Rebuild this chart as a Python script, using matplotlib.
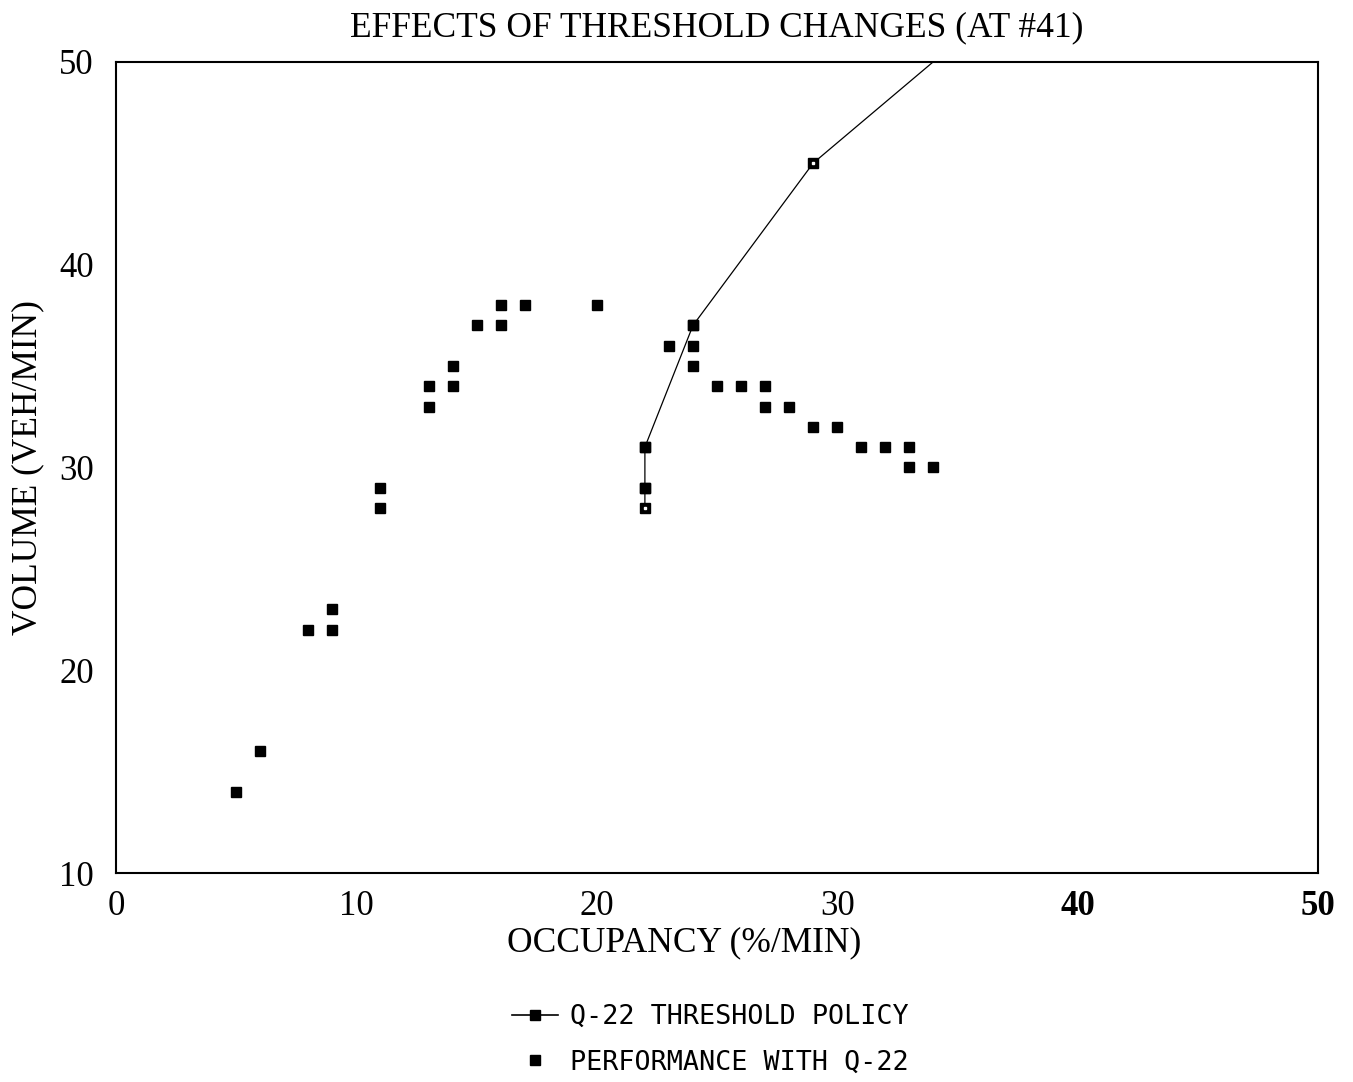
import matplotlib.pyplot as plt
from matplotlib.lines import Line2D

# Q-22 threshold policy curve
policy_occ = [22, 22, 22, 24, 29, 36]
policy_vol = [28, 29, 31, 37, 45, 52]

# observed performance with Q-22
perf_occ = [5, 6, 8, 9, 9, 11, 11, 13, 13, 14, 14, 15, 16, 16, 17, 20,
            22, 22, 23, 24, 24, 24, 25, 26, 27, 27, 28, 29, 30, 31, 32, 33, 33, 34]
perf_vol = [14, 16, 22, 22, 23, 28, 29, 33, 34, 34, 35, 37, 37, 38, 38, 38,
            29, 31, 36, 35, 36, 37, 34, 34, 34, 33, 33, 32, 32, 31, 31, 31, 30, 30]

xticks = [0, 10, 20, 30, 40, 50]
yticks = [10, 20, 30, 40, 50]

plt.rcParams['font.family'] = ['Liberation Serif', 'DejaVu Serif']

fig = plt.figure(figsize=(13.53, 10.82), dpi=100)
ax = fig.add_axes([0.0857, 0.193, 0.8885, 0.750])

ax.plot(policy_occ, policy_vol, color='black', lw=0.9, marker='s', ms=7,
        markerfacecolor='black', markeredgecolor='black', clip_on=True)
# policy markers have a small light centre in the original
ax.plot(policy_occ, policy_vol, ls='none', marker='s', ms=1.5,
        color='white', clip_on=True)
ax.plot(perf_occ, perf_vol, ls='none', marker='s', ms=7, color='black')

ax.set_xlim(0, 50)
ax.set_ylim(10, 50)
ax.set_xticks(xticks)
ax.set_yticks(yticks)
ax.tick_params(length=0, labelsize=25)
ax.tick_params(axis='x', pad=12)
ax.tick_params(axis='y', pad=16)
for lab in ax.get_xticklabels():
    if lab.get_text() in ('40', '50'):
        lab.set_fontweight('bold')
for s in ax.spines.values():
    s.set_linewidth(1.5)

ax.set_xlabel('OCCUPANCY (%/MIN)', fontsize=25.5)
ax.set_ylabel('VOLUME (VEH/MIN)', fontsize=25.5)
ax.xaxis.set_label_coords(0.473, -0.066)
ax.yaxis.set_label_coords(-0.060, 0.5)
ax.set_title('EFFECTS OF THRESHOLD CHANGES (AT #41)', fontsize=25.5, pad=18)

handles = [Line2D([], [], color='black', lw=1.2, marker='s', ms=7),
           Line2D([], [], ls='none', color='black', marker='s', ms=7)]
fig.legend(handles, ['Q-22 THRESHOLD POLICY', 'PERFORMANCE WITH Q-22'],
           loc='center', bbox_to_anchor=(0.525, 0.039), frameon=False,
           prop={'family': 'DejaVu Sans Mono', 'size': 19.3},
           handlelength=1.75, handletextpad=0.45, labelspacing=0.72,
           borderpad=0)

fig.savefig('out.png', dpi=100)
